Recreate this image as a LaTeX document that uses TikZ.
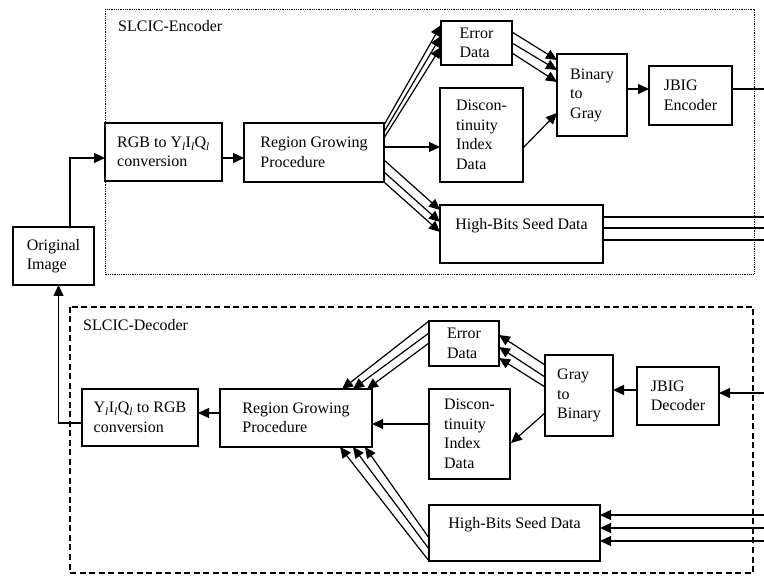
\documentclass[tikz,border=0pt]{standalone}
\usepackage{fontspec}
\setmainfont{Liberation Serif}
\usetikzlibrary{arrows.meta,calc}
\newcommand{\subl}{\textsubscript{\textit{l}}}
\begin{document}
\begin{tikzpicture}[x=1pt,y=-1pt,
  box/.style={draw, line width=1.4pt, outer sep=0pt, inner sep=0pt, align=left,
              anchor=north west, font=\fontsize{16}{19.5}\selectfont},
  conn/.style={line width=1.2pt},
  arr/.style={conn, -{Triangle[length=11pt,width=10pt]}},
  frametitle/.style={anchor=west, inner sep=0pt, font=\fontsize{16}{19.5}\selectfont},
]
\useasboundingbox (0,0) rectangle (764,585);
\coordinate (rightedge) at (764,0);

% frames
\draw[densely dotted, line width=0.8pt] (105,9) rectangle (754,274);
\draw[dash pattern=on 6pt off 3.5pt, line width=1.2pt] (70,307) rectangle (753,573);
\node[frametitle] (enclabel) at (118,26) {SLCIC-Encoder};
\node[frametitle] (declabel) at (83,325) {SLCIC-Decoder};

% source image
\node[box, minimum width=81pt, minimum height=58pt] (orig) at (13,227) {Original\\Image};

% encoder blocks
\node[box, minimum width=117pt, minimum height=58pt] (rgb) at (105,123) {RGB to Y\subl I\subl Q\subl\\conversion};
\node[box, minimum width=140pt, minimum height=59pt] (rg) at (244,123) {Region Growing\\Procedure};
\node[box, minimum width=71pt, minimum height=44pt] (err) at (441,21) {Error\\Data};
\node[box, minimum width=83pt, minimum height=94pt] (disc) at (440,88) {Discon-\\tinuity\\Index\\Data};
\node[box, minimum width=70pt, minimum height=82pt] (b2g) at (557,54) {Binary\\to\\Gray};
\node[box, minimum width=83pt, minimum height=59pt] (jbe) at (649,66) {JBIG\\Encoder};
\node[box, minimum width=163pt, minimum height=58pt] (hbe) at (440,205) {High-Bits Seed Data\\ \mbox{}};

% decoder blocks
\node[box, minimum width=116pt, minimum height=57pt] (yiq) at (82,389) {Y\subl I\subl Q\subl\ to RGB\\conversion};
\node[box, minimum width=152pt, minimum height=58pt] (rgd) at (220,389) {Region Growing\\Procedure};
\node[box, minimum width=70pt, minimum height=45pt] (errd) at (429,321) {Error\\Data};
\node[box, minimum width=81pt, minimum height=90pt] (discd) at (429,389) {Discon-\\tinuity\\Index\\Data};
\node[box, minimum width=68pt, minimum height=81pt] (g2b) at (545,355) {Gray\\to\\Binary};
\node[box, minimum width=82pt, minimum height=58pt] (jbd) at (637,367) {JBIG\\Decoder};
\node[box, minimum width=171pt, minimum height=56pt] (hbd) at (429,505) {High-Bits Seed Data\\ \mbox{}};

% encoder connections
\draw[arr] ($(orig.north)+(16.5,0)$) |- ($(rgb.north west)+(0,35)$);
\draw[arr] ($(rgb.north east)+(0,35)$) -- ($(rg.north west)+(0,35)$);
\foreach \a/\b in {2/4, 9/15, 15/26}
  \draw[arr] ($(rg.north east)+(0,\a)$) -- ($(err.north west)+(0,\b)$);
\draw[arr] ($(rg.north east)+(0,24)$) -- ($(disc.north west)+(0,59)$);
\foreach \a/\b in {-22/5, -10/17, 0/27}
  \draw[arr] ($(rg.south east)+(0,\a)$) -- ($(hbe.north west)+(0,\b)$);
\foreach \a/\b in {11/6, 22/16, 32/28}
  \draw[arr] ($(err.north east)+(0,\a)$) -- ($(b2g.north west)+(0,\b)$);
\draw[arr] ($(disc.north east)+(0,60)$) -- ($(b2g.north west)+(0,59)$);
\draw[arr] ($(b2g.north east)+(0,35)$) -- ($(jbe.north west)+(0,23)$);
\draw[conn] ($(jbe.north west)+(83,23)$) coordinate (jo) -- (jo -| rightedge);
\foreach \d in {12,23,35}
  \draw[conn] ($(hbe.north east)+(0,\d)$) coordinate (ho) -- (ho -| rightedge);

% decoder connections
\path ($(jbd.north east)+(0,26)$) coordinate (ji);
\draw[arr] (ji -| rightedge) -- (ji);
\draw[arr] ($(jbd.north west)+(0,23)$) -- ($(g2b.north east)+(0,35)$);
\foreach \a/\b in {10/14, 22/26, 32/37}
  \draw[arr] ($(g2b.north west)+(0,\a)$) -- ($(errd.north east)+(0,\b)$);
\draw[arr] ($(g2b.north west)+(0,58)$) -- ($(discd.north east)+(1,54)$);
\foreach \d in {10,23,36} {
  \path ($(hbd.north east)+(0,\d)$) coordinate (hi);
  \draw[arr] (hi -| rightedge) -- (hi);
}
\foreach \a/\b in {0/-30, 12/-19, 22/-5}
  \draw[arr] ($(errd.north west)+(0,\a)$) -- ($(rgd.north east)+(\b,0)$);
\draw[arr] ($(discd.north west)+(0,35)$) -- ($(rgd.north east)+(0,35)$);
\foreach \a/\b in {-23/-7, -12/-19, 0/-32}
  \draw[arr] ($(hbd.south west)+(0,\a)$) -- ($(rgd.south east)+(\b,0)$);
\draw[arr] ($(rgd.north west)+(0,24)$) -- ($(yiq.north east)+(0,24)$);
\draw[arr] ($(yiq.north west)+(0,34)$) -| ($(orig.south)+(5,0)$);
\end{tikzpicture}
\end{document}
